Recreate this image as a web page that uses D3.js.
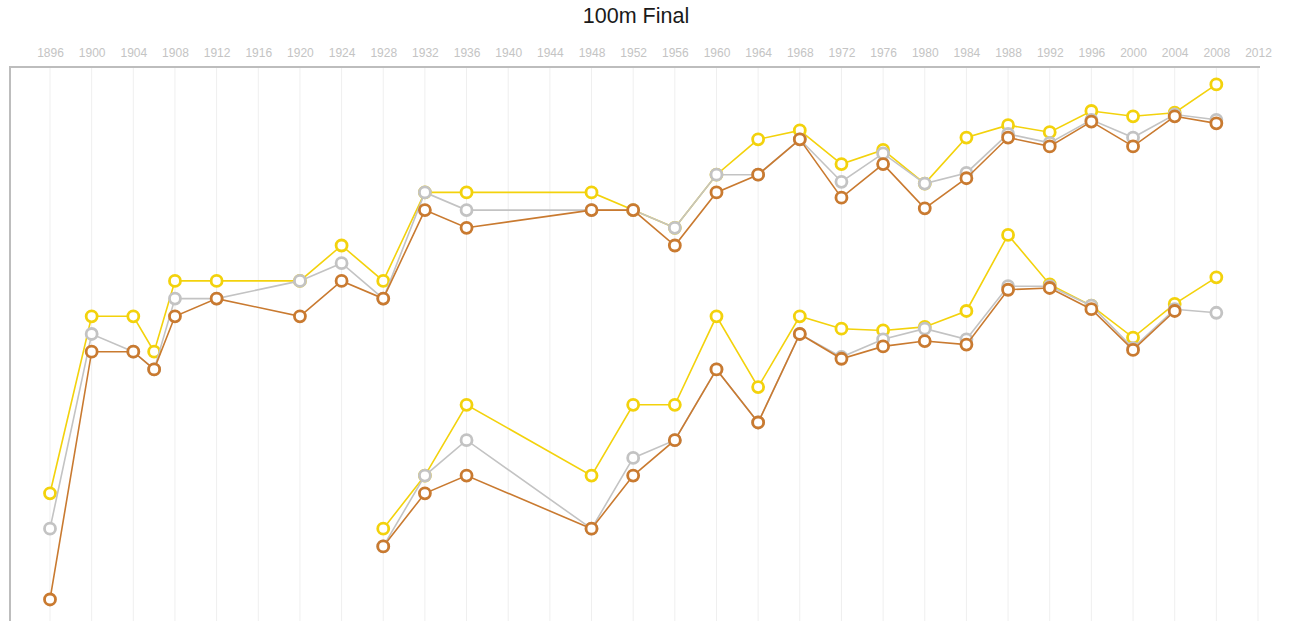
<!DOCTYPE html>
<html>
<head>
<meta charset="utf-8">
<script src="https://cdn.jsdelivr.net/npm/d3@7"></script>
<style>
  html, body { margin: 0; padding: 0; background: #fff; }
  svg { display: block; }
</style>
</head>
<body>
<svg id="chart" width="1291" height="621"></svg>
<script>
// ---- Data (winning times, seconds) ----
const tickYears = d3.range(1896, 2013, 4);

const menYears   = [1896,1900,1904,1906,1908,1912,1920,1924,1928,1932,1936,1948,1952,1956,1960,1964,1968,1972,1976,1980,1984,1988,1992,1996,2000,2004,2008];
const menGold    = [12.0,11.0,11.0,11.2,10.8,10.8,10.8,10.6,10.8,10.3,10.3,10.3,10.4,10.5,10.2,10.0,9.95,10.14,10.06,10.25,9.99,9.92,9.96,9.84,9.87,9.85,9.69];
const menSilver  = [12.2,11.1,11.2,11.3,10.9,10.9,10.8,10.7,10.9,10.3,10.4,10.4,10.4,10.5,10.2,10.2,10.0,10.24,10.08,10.25,10.19,9.97,10.02,9.89,9.99,9.86,9.89];
const menBronze  = [12.6,11.2,11.2,11.3,11.0,10.9,11.0,10.8,10.9,10.4,10.5,10.4,10.4,10.6,10.3,10.2,10.0,10.33,10.14,10.39,10.22,9.99,10.04,9.90,10.04,9.87,9.91];

const womenYears  = [1928,1932,1936,1948,1952,1956,1960,1964,1968,1972,1976,1980,1984,1988,1992,1996,2000,2004,2008];
const womenGold   = [12.2,11.9,11.5,11.9,11.5,11.5,11.0,11.4,11.0,11.07,11.08,11.06,10.97,10.54,10.82,10.94,11.12,10.93,10.78];
const womenSilver = [12.3,11.9,11.7,12.2,11.8,11.7,11.3,11.6,11.1,11.23,11.13,11.07,11.13,10.83,10.83,10.94,11.18,10.96,10.98];
const womenBronze = [12.3,12.0,11.9,12.2,11.9,11.7,11.3,11.6,11.1,11.24,11.17,11.14,11.16,10.85,10.84,10.96,11.19,10.97,null];

const medalColors = { gold: "#f3d20c", silver: "#c3c3c3", bronze: "#c97a30" };

// ---- Layout ----
const svg = d3.select("#chart");
const frameLeft = 10, frameTop = 67, frameRight = 1260, frameBottom = 621;

const x = d3.scaleLinear().domain([1896, 2012]).range([50, 1258]);
const y = d3.scaleLinear().domain([9.6, 12.73]).range([68.5, 622.5]);

// title
svg.append("text")
  .attr("x", 636).attr("y", 23)
  .attr("text-anchor", "middle")
  .attr("font-family", "'Liberation Sans', Arial, Helvetica, sans-serif")
  .attr("font-size", 21.5)
  .attr("fill", "#1a1a1a")
  .text("100m Final");

// gridlines
svg.append("g").selectAll("line")
  .data(tickYears)
  .join("line")
  .attr("x1", d => x(d)).attr("x2", d => x(d))
  .attr("y1", frameTop).attr("y2", frameBottom)
  .attr("stroke", "#efefef")
  .attr("stroke-width", 1);

// top axis
const axis = d3.axisTop(x).tickValues(tickYears).tickFormat(d3.format("d")).tickSize(0).tickPadding(0);
const gAxis = svg.append("g").attr("transform", `translate(0,${frameTop - 10})`).call(axis);
gAxis.select(".domain").remove();
gAxis.selectAll("text")
  .attr("font-family", "'Liberation Sans', Arial, Helvetica, sans-serif")
  .attr("font-size", 12)
  .attr("fill", "#c4c4c4");

// frame
svg.append("path")
  .attr("d", `M${frameLeft},${frameBottom}V${frameTop}H${frameRight}`)
  .attr("fill", "none")
  .attr("stroke", "#bdbdbd")
  .attr("stroke-width", 2);

// series
const series = [
  { years: menYears,   vals: menGold,     medal: "gold" },
  { years: womenYears, vals: womenGold,   medal: "gold" },
  { years: menYears,   vals: menSilver,   medal: "silver" },
  { years: womenYears, vals: womenSilver, medal: "silver" },
  { years: menYears,   vals: menBronze,   medal: "bronze" },
  { years: womenYears, vals: womenBronze, medal: "bronze" }
];

const line = d3.line()
  .defined(d => d.v != null)
  .x(d => x(d.year))
  .y(d => y(d.v));

["gold", "silver", "bronze"].forEach(medal => {
  const g = svg.append("g").attr("class", medal);
  const list = series.filter(s => s.medal === medal);
  list.forEach(s => {
    const pts = s.years.map((yr, i) => ({ year: yr, v: s.vals[i] }));
    g.append("path")
      .datum(pts)
      .attr("d", line)
      .attr("fill", "none")
      .attr("stroke", medalColors[medal])
      .attr("stroke-width", 1.6);
  });
  list.forEach(s => {
    const pts = s.years.map((yr, i) => ({ year: yr, v: s.vals[i] })).filter(d => d.v != null);
    g.append("g").selectAll("circle")
      .data(pts)
      .join("circle")
      .attr("cx", d => x(d.year))
      .attr("cy", d => y(d.v))
      .attr("r", 5.5)
      .attr("fill", "#fff")
      .attr("stroke", medalColors[medal])
      .attr("stroke-width", 2.8);
  });
});
</script>
</body>
</html>
